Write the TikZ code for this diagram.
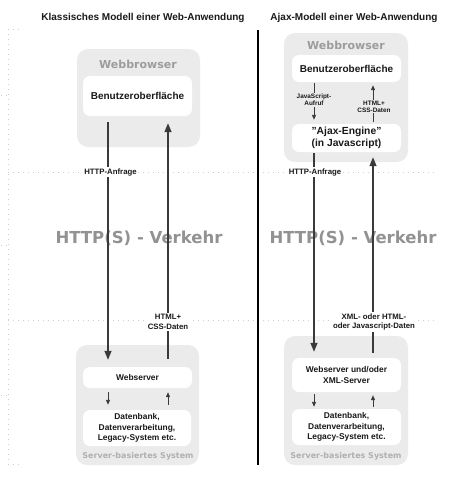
\documentclass[tikz,border=0pt]{standalone}
\usepackage{fontspec}
\setmainfont{Liberation Sans}
\newfontfamily\dejavu{DejaVu Sans}
\usetikzlibrary{arrows.meta}
\definecolor{boxgray}{HTML}{EBEBEB}
\definecolor{linegray}{HTML}{3A3A3A}
\definecolor{dotgray}{HTML}{CFCFCF}
\definecolor{labgray}{HTML}{9C9C9C}
\definecolor{biggray}{HTML}{929292}
\definecolor{sysgray}{HTML}{B0B0B0}
\tikzset{
  outerbox/.style={draw=none,fill=boxgray,rounded corners=11pt},
  innerbox/.style={draw=none,fill=white,rounded corners=7pt},
  ttl/.style={font=\fontsize{10}{12}\selectfont\bfseries,text=black!90},
  uitext/.style={font=\fontsize{10}{12}\selectfont\bfseries,align=center,text=black!90},
  smalltext/.style={font=\fontsize{8.4}{10.3}\selectfont\bfseries,align=center,text=black!90},
  lbl/.style={font=\fontsize{7.8}{9.8}\selectfont\bfseries,align=center,fill=white,inner sep=1.5pt,text=black!90},
  tinylbl/.style={font=\fontsize{6.4}{7}\selectfont\bfseries,align=center,fill=boxgray,inner sep=1pt,text=black!90},
  wblabel/.style={font=\dejavu\fontsize{11}{13}\selectfont\bfseries,text=labgray},
  syslabel/.style={font=\dejavu\fontsize{8}{10}\selectfont\bfseries,text=sysgray},
  traffic/.style={font=\dejavu\fontsize{16.5}{19}\selectfont\bfseries,text=biggray},
  bigarrow/.style={draw=linegray,line width=1.3pt,-{Triangle[length=9pt,width=7pt]}},
  smallarrow/.style={draw=linegray,line width=0.9pt,-{Triangle[length=5pt,width=4pt]}},
  dotline/.style={draw=dotgray,line width=0.9pt,dash pattern=on 1pt off 4pt},
}
\begin{document}
\begin{tikzpicture}[x=1pt,y=-1pt]
\useasboundingbox (0,0) rectangle (454,480);

% dotted frame lines
\draw[dotline] (8,29) -- (8,465);
\draw[dotline] (8,29) -- (23,29);
\draw[dotline] (8,464) -- (23,464);
\draw[dotline] (1,95) -- (8,95);
\draw[dotline] (1,245) -- (8,245);
\draw[dotline] (1,395) -- (8,395);
\draw[dotline] (8,172) -- (437,172);
\draw[dotline] (8,320) -- (437,320);

% titles
\node[ttl] (titleL) at (143,18) {Klassisches Modell einer Web-Anwendung};
\node[ttl] (titleR) at (354,18) {Ajax-Modell einer Web-Anwendung};

% divider
\draw[black,line width=2pt] (258,30) -- (258,465);

% ---------- left side ----------
\fill[outerbox] (77,49) rectangle (200,147);
\node[wblabel] (wbL) at (138,64) {Webbrowser};
\node[innerbox,minimum width=109pt,minimum height=40pt] (uiL) at (137.5,96) {};
\node[uitext] at (uiL) {Benutzeroberfläche};

\fill[outerbox] (76,345) rectangle (199,465);
\node[innerbox,minimum width=109pt,minimum height=21pt] (wsL) at (137.5,377.5) {};
\node[smalltext] at (wsL) {Webserver};
\node[innerbox,minimum width=108pt,minimum height=36pt] (dbL) at (137,428) {};
\node[smalltext] at (dbL) {Datenbank,\\Datenverarbeitung,\\Legacy-System etc.};
\node[syslabel] (sysL) at (138,456) {Server-basiertes System};

% ---------- right side ----------
\fill[outerbox] (284,33) rectangle (408,162);
\node[wblabel] (wbR) at (346,45) {Webbrowser};
\node[innerbox,minimum width=109pt,minimum height=27pt] (uiR) at (346.5,68.5) {};
\node[uitext] at (uiR) {Benutzeroberfläche};
\node[innerbox,minimum width=109pt,minimum height=28pt] (ajax) at (346.5,138) {};
\node[uitext,font=\fontsize{10.3}{12.5}\selectfont\bfseries] at (ajax) {\char"22 Ajax-Engine\char"22\\(in Javascript)};

\fill[outerbox] (284,336) rectangle (408,465);
\node[innerbox,minimum width=109pt,minimum height=34pt] (wsR) at (346.5,375) {};
\node[smalltext] at (wsR) {Webserver und/oder\\XML-Server};
\node[innerbox,minimum width=109pt,minimum height=36pt] (dbR) at (346.5,427) {};
\node[smalltext] at (dbR) {Datenbank,\\Datenverarbeitung,\\Legacy-System etc.};
\node[syslabel] (sysR) at (346,456) {Server-basiertes System};

% big traffic labels (under the lines)
\node[traffic] (trL) at (139,238) {HTTP(S) - Verkehr};
\node[traffic] (trR) at (353,238) {HTTP(S) - Verkehr};

% x positions of connectors
\coordinate (xa) at (108,0);
\coordinate (xb) at (168,0);
\coordinate (xc) at (314,0);
\coordinate (xd) at (373,0);

% left connectors
\draw[bigarrow,shorten <=6pt,shorten >=7pt] (uiL.south -| xa) -- (wsL.north -| xa);
\draw[bigarrow,shorten <=8pt,shorten >=7pt] (wsL.north -| xb) -- (uiL.south -| xb);
\draw[smallarrow,shorten <=4pt,shorten >=5pt] (wsL.south -| xa) -- (dbL.north -| xa);
\draw[smallarrow,shorten <=5pt,shorten >=4pt] (dbL.north -| xb) -- (wsL.south -| xb);
\node[lbl] (httpL) at (110.5,172) {HTTP-Anfrage};
\node[lbl] (htmlL) at (168,322) {HTML+\\CSS-Daten};

% right connectors
\draw[smallarrow,shorten <=1pt,shorten >=4pt] (uiR.south -| xc) -- (ajax.north -| xc);
\draw[smallarrow,shorten <=2pt,shorten >=3pt] (ajax.north -| xd) -- (uiR.south -| xd);
\node[tinylbl] (jsR) at (314,100) {JavaScript-\\Aufruf};
\node[tinylbl] (htmlR) at (374,106.5) {HTML+\\CSS-Daten};

\draw[bigarrow,shorten <=1pt,shorten >=6pt] (ajax.south -| xc) -- (wsR.north -| xc);
\draw[bigarrow,shorten <=5pt,shorten >=5pt] (wsR.north -| xd) -- (ajax.south -| xd);
\draw[smallarrow,shorten <=2pt,shorten >=2pt] (wsR.south -| xc) -- (dbR.north -| xc);
\draw[smallarrow,shorten <=2pt,shorten >=3pt] (dbR.north -| xd) -- (wsR.south -| xd);
\node[lbl] (httpR) at (315,172) {HTTP-Anfrage};
\node[lbl] (xmlR) at (374,322) {XML- oder HTML-\\oder Javascript-Daten};
\end{tikzpicture}
\end{document}
